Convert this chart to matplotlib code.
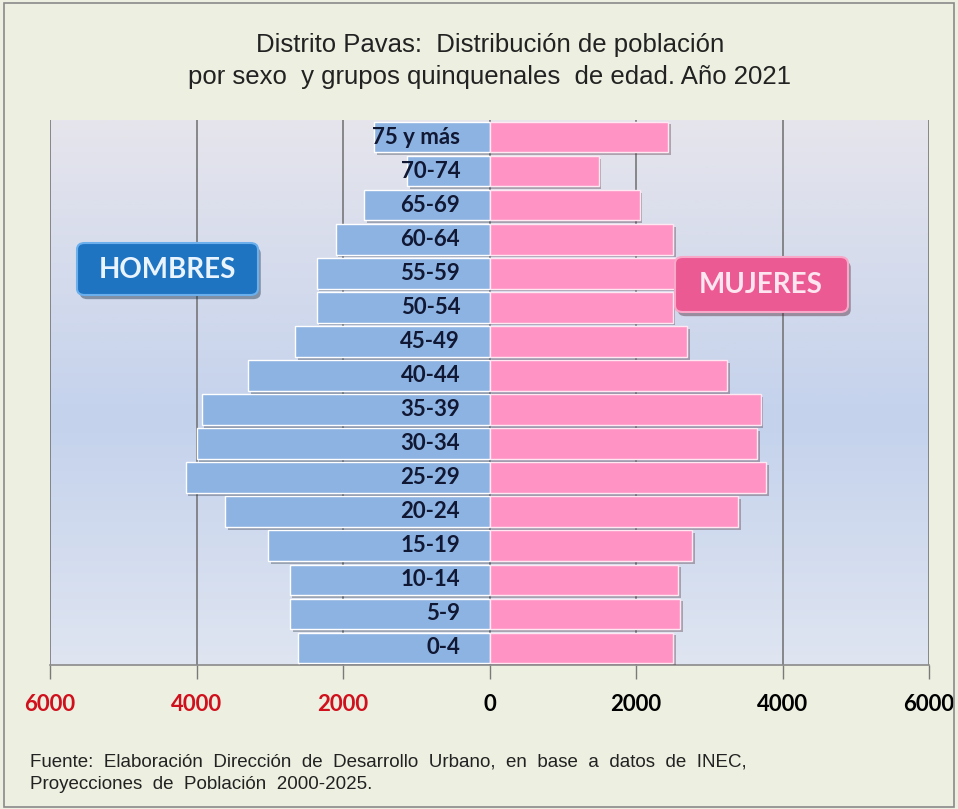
import numpy as np
import matplotlib.pyplot as plt
import matplotlib.patheffects as pe
from matplotlib.patches import FancyBboxPatch, Rectangle
from matplotlib.colors import LinearSegmentedColormap

# Datos: población por grupo quinquenal (Distrito Pavas, 2021)
grupos = ['0-4', '5-9', '10-14', '15-19', '20-24', '25-29', '30-34', '35-39',
          '40-44', '45-49', '50-54', '55-59', '60-64', '65-69', '70-74', '75 y más']
hombres = [2620, 2720, 2730, 3020, 3610, 4150, 4000, 3930,
           3300, 2650, 2360, 2360, 2100, 1710, 1120, 1580]
mujeres = [2510, 2600, 2580, 2770, 3390, 3780, 3655, 3700,
           3240, 2700, 2500, 2550, 2510, 2050, 1490, 2440]

ticks = [-6000, -4000, -2000, 0, 2000, 4000, 6000]
tick_txt = ['6000', '4000', '2000', '0', '2000', '4000', '6000']
tick_col = ['#D0101C', '#D0101C', '#D0101C', 'black', 'black', 'black', 'black']

titulo = 'Distrito Pavas:  Distribución de población\npor sexo  y grupos quinquenales  de edad. Año 2021'
fuente = ('Fuente:  Elaboración  Dirección  de  Desarrollo  Urbano,  en  base  a  datos  de  INEC,\n'
          'Proyecciones  de  Población  2000-2025.')

fig = plt.figure(figsize=(9.58, 8.09), dpi=100)
fig.patch.set_facecolor('#EDEFE0')
fig.patches.append(Rectangle((0.004, 0.003), 0.992, 0.993, transform=fig.transFigure,
                             fill=False, edgecolor='#8A8A8A', linewidth=1.2))

ax = fig.add_axes([50 / 958, 1 - 665 / 809, 879 / 958, 545 / 809])
y = np.arange(len(grupos))

# fondo degradado del área del gráfico (arriba gris claro, centro azulado)
cmap = LinearSegmentedColormap.from_list('fondo', [(0, '#E6E5EC'), (0.55, '#C4D2EC'), (1, '#DFE5F1')])
grad = np.linspace(0, 1, 256).reshape(-1, 1)
ax.imshow(grad, extent=[-6000, 6000, -0.5, len(grupos) - 0.5], origin='upper',
          cmap=cmap, aspect='auto', zorder=0)

sombra = [pe.SimplePatchShadow(offset=(2, -2), alpha=0.35), pe.Normal()]
b1 = ax.barh(y, [-h for h in hombres], height=0.9, color='#8DB3E2', edgecolor='white',
             linewidth=1, zorder=3)
b2 = ax.barh(y, mujeres, height=0.9, color='#FF94C4', edgecolor='#FFE8F2',
             linewidth=1, zorder=3)
for b in list(b1) + list(b2):
    b.set_path_effects(sombra)

for yi, g in zip(y, grupos):
    ax.text(-400, yi, g, ha='right', va='center', fontsize=16, fontweight='bold',
            family='Lato', color='#111833', zorder=4)

ax.set_xlim(-6000, 6000)
ax.set_ylim(-0.5, len(grupos) - 0.5)
ax.set_yticks([])
ax.set_xticks(ticks)
ax.set_xticklabels(tick_txt, fontsize=16, fontweight='bold', family='Lato')
for lab, c in zip(ax.get_xticklabels(), tick_col):
    lab.set_color(c)
ax.tick_params(axis='x', length=10, width=1, color='#7A7A7A', pad=11)
ax.grid(axis='x', color='#6E6E6E', linewidth=1.1, zorder=1)
for s in ['top', 'left', 'right']:
    ax.spines[s].set_visible(False)
ax.spines['bottom'].set_color('#8A8A8A')
ax.spines['bottom'].set_linewidth(1.2)

# etiquetas HOMBRES / MUJERES
caja_h = FancyBboxPatch((77 / 958, 1 - 295 / 809), 181 / 958, 52 / 809,
                        boxstyle='round,pad=0,rounding_size=0.008', transform=fig.transFigure,
                        facecolor='#1F74C2', edgecolor='#6BB0EC', linewidth=1.5, zorder=5)
caja_h.set_path_effects([pe.SimplePatchShadow(offset=(2, -3), alpha=0.4), pe.Normal()])
fig.patches.append(caja_h)
fig.text(167 / 958, 1 - 270 / 809, 'HOMBRES', ha='center', va='center', fontsize=20,
         fontweight='bold', family='Lato', color='#EAF4FF', zorder=6)

caja_m = FancyBboxPatch((675 / 958, 1 - 312 / 809), 173 / 958, 55 / 809,
                        boxstyle='round,pad=0,rounding_size=0.008', transform=fig.transFigure,
                        facecolor='#EC5A93', edgecolor='#F8A8C8', linewidth=1.5, zorder=5)
caja_m.set_path_effects([pe.SimplePatchShadow(offset=(2, -3), alpha=0.4), pe.Normal()])
fig.patches.append(caja_m)
fig.text(761 / 958, 1 - 285 / 809, 'MUJERES', ha='center', va='center', fontsize=20,
         fontweight='bold', family='Lato', color='#FDE6F0', zorder=6)

fig.text(490 / 958, 1 - 61 / 809, titulo, ha='center', va='center', fontsize=18.5,
         family='Liberation Sans', color='#222222', linespacing=1.38)
fig.text(30 / 958, 1 - 773.5 / 809, fuente, ha='left', va='center', fontsize=13.5,
         family='Liberation Sans', color='#222222', linespacing=1.4)

fig.savefig('out.png', dpi=100, facecolor=fig.get_facecolor())
